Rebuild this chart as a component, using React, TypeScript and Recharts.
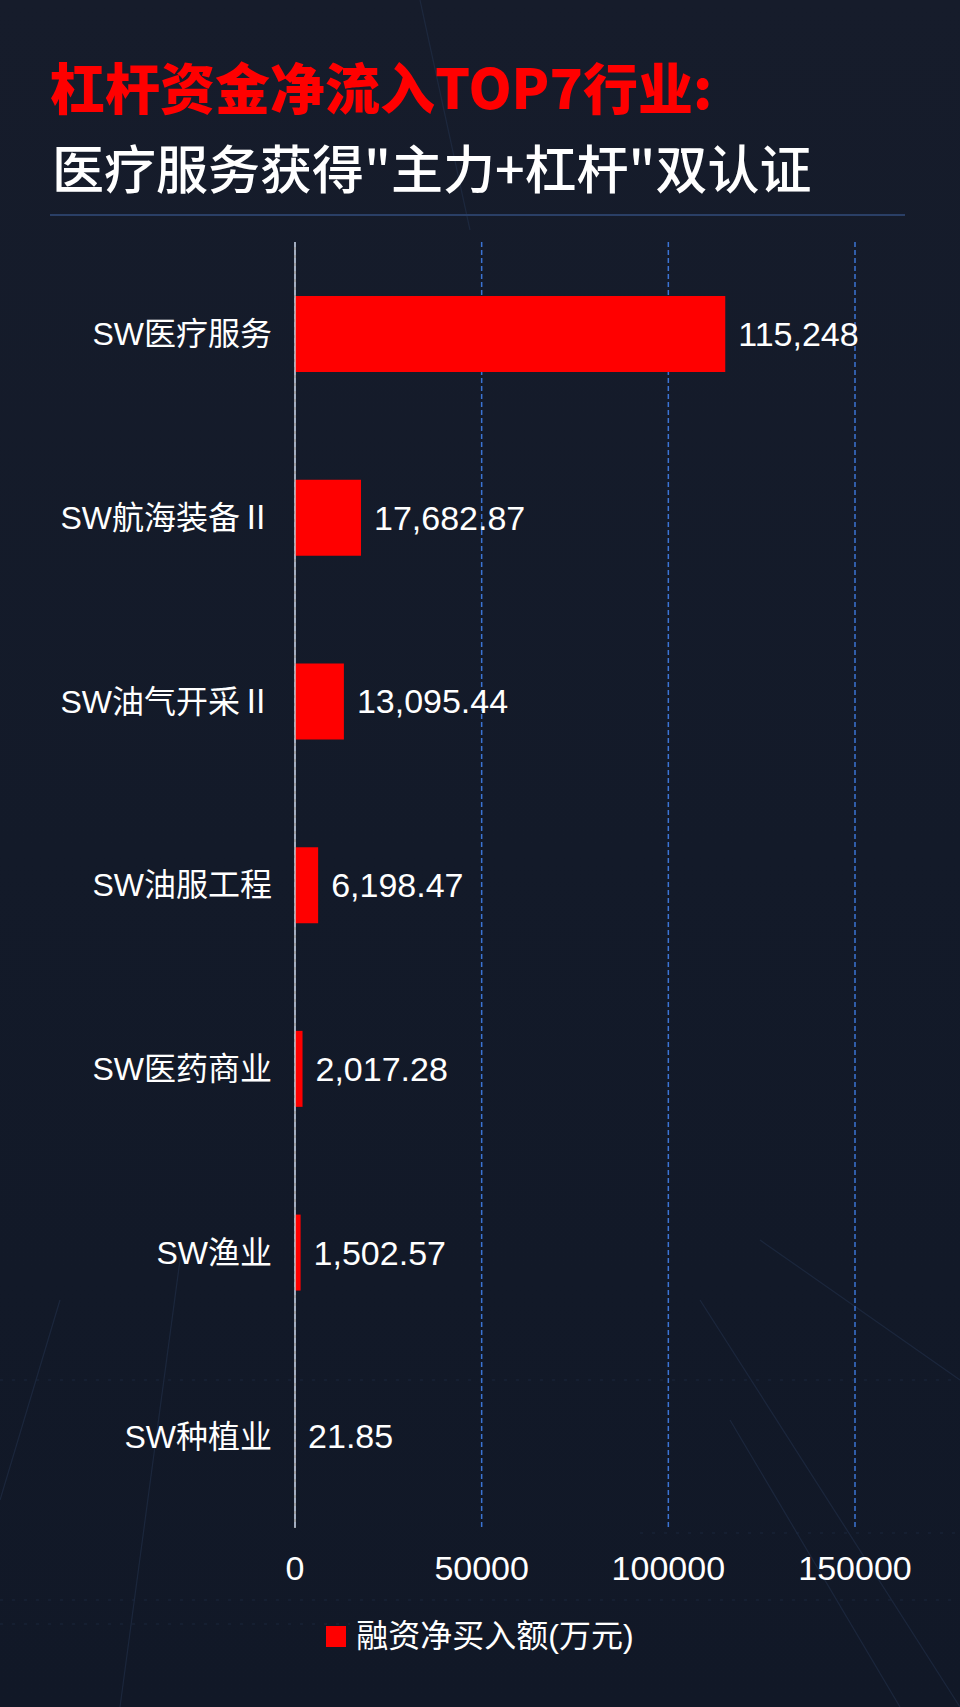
import { Bar, BarChart, CartesianGrid, LabelList, Legend, XAxis, YAxis } from 'recharts';

const industries = ['SW医疗服务', 'SW航海装备Ⅱ', 'SW油气开采Ⅱ', 'SW油服工程', 'SW医药商业', 'SW渔业', 'SW种植业'];
const netBuy = [115248, 17682.87, 13095.44, 6198.47, 2017.28, 1502.57, 21.85];
const xTicks = [0, 50000, 100000, 150000];
const seriesName = '融资净买入额(万元)';

const data = industries.map((name, i) => ({ name, value: netBuy[i] }));

const FONT = '"Liberation Sans", Arial, "Noto Sans CJK SC", sans-serif';

function fmt(v: number) {
    return v.toLocaleString('en-US', { maximumFractionDigits: 2 });
}

function LegendContent() {
    return (
        <div style={{ display: 'flex', justifyContent: 'center', alignItems: 'center', fontFamily: FONT }}>
            <span style={{ width: 20, height: 21, background: '#ff0000', display: 'inline-block', marginRight: 10 }} />
            <span style={{ color: '#ffffff', fontSize: 32, lineHeight: '40px' }}>{seriesName}</span>
        </div>
    );
}

// faint decorative streaks of the backdrop
function Backdrop() {
    return (
        <svg width={960} height={1707} style={{ position: 'absolute', left: 0, top: 0 }}>
            <g stroke="#22304a" strokeWidth={1.2} opacity={0.6}>
                <line x1={700} y1={1300} x2={960} y2={1707} />
                <line x1={730} y1={1420} x2={900} y2={1707} />
                <line x1={760} y1={1240} x2={960} y2={1380} />
                <line x1={60} y1={1300} x2={0} y2={1500} />
                <line x1={180} y1={1260} x2={120} y2={1707} />
                <line x1={420} y1={0} x2={470} y2={230} />
            </g>
            <g stroke="#1d2a42" strokeWidth={1} strokeDasharray="3 9" opacity={0.8}>
                <line x1={0} y1={1600} x2={960} y2={1600} />
                <line x1={0} y1={1624} x2={350} y2={1624} />
                <line x1={640} y1={1533} x2={960} y2={1533} />
                <line x1={0} y1={1380} x2={960} y2={1380} />
            </g>
        </svg>
    );
}

export default function App() {
    return (
        <div
            style={{
                position: 'absolute',
                left: 0,
                top: 0,
                width: 960,
                height: 1707,
                overflow: 'hidden',
                background: 'linear-gradient(180deg, #161c2b 0%, #131a29 50%, #111827 100%)',
                fontFamily: FONT,
            }}
        >
            <Backdrop />
            <div
                style={{
                    position: 'absolute',
                    left: 50,
                    top: 58,
                    fontSize: 55,
                    lineHeight: '55px',
                    fontWeight: 900,
                    color: '#ff0000',
                    fontFamily: '"Noto Sans CJK SC", sans-serif',
                    whiteSpace: 'nowrap',
                }}
            >
                杠杆资金净流入TOP7行业:
            </div>
            <div
                style={{
                    position: 'absolute',
                    left: 52,
                    top: 141,
                    fontSize: 52,
                    lineHeight: '52px',
                    fontWeight: 500,
                    color: '#ffffff',
                    fontFamily: '"Noto Sans CJK SC", sans-serif',
                    whiteSpace: 'nowrap',
                }}
            >
                医疗服务获得"主力+杠杆"双认证
            </div>
            <div style={{ position: 'absolute', left: 50, top: 214, width: 855, height: 1.5, background: '#2a3f66' }} />
            <div style={{ position: 'absolute', left: 0, top: 0 }}>
                <BarChart
                    width={960}
                    height={1707}
                    data={data}
                    layout="vertical"
                    margin={{ top: 242, right: 105, bottom: 109, left: 0 }}
                >
                    <CartesianGrid horizontal={false} stroke="#3b74d4" strokeDasharray="5 3" strokeWidth={1.5} />
                    <XAxis
                        type="number"
                        domain={[0, 150000]}
                        ticks={xTicks}
                        axisLine={false}
                        tickLine={false}
                        tickMargin={22}
                        height={70}
                        tick={{ fill: '#ffffff', fontSize: 34, fontFamily: FONT }}
                    />
                    <YAxis
                        type="category"
                        dataKey="name"
                        width={295}
                        axisLine={{ stroke: '#c8c8c8', strokeWidth: 1.5 }}
                        tickLine={false}
                        tickMargin={17}
                        tick={{ fill: '#ffffff', fontSize: 32, fontFamily: FONT }}
                    />
                    <Legend
                        verticalAlign="middle"
                        align="center"
                        layout="horizontal"
                        wrapperStyle={{ top: 1616, left: 0, width: 960 }}
                        content={<LegendContent />}
                    />
                    <Bar dataKey="value" name={seriesName} fill="#ff0000" barSize={76} isAnimationActive={false}>
                        <LabelList
                            dataKey="value"
                            position="right"
                            offset={13}
                            formatter={(v: any) => fmt(Number(v))}
                            style={{ fill: '#ffffff', fontSize: 34, fontFamily: FONT }}
                        />
                    </Bar>
                </BarChart>
            </div>
        </div>
    );
}
